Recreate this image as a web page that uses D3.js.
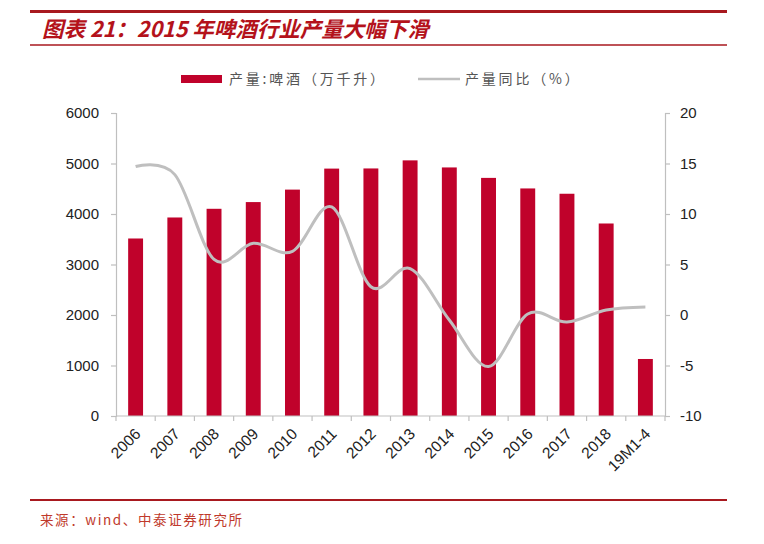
<!DOCTYPE html>
<html><head><meta charset="utf-8">
<script src="https://cdn.jsdelivr.net/npm/d3@7/dist/d3.min.js"></script>
<style>
body{margin:0;background:#fff;}
svg{display:block;}
</style></head>
<body>
<svg id="chart" width="764" height="544"></svg>
<script>
const categories = ["2006","2007","2008","2009","2010","2011","2012","2013","2014","2015","2016","2017","2018","19M1-4"];
const output = [3515,3931,4103,4236,4483,4899,4902,5062,4922,4715,4506,4401,3812,1129];
const yoy = [14.7,13.9,5.5,7.1,6.3,10.7,2.8,4.6,-0.5,-5.1,0.1,-0.7,0.5,0.8];
const leftTicks = [0,1000,2000,3000,4000,5000,6000];
const rightTicks = [-10,-5,0,5,10,15,20];
const titleText = "图表 21：2015 年啤酒行业产量大幅下滑";
const legendLabels = ["产量:啤酒（万千升）","产量同比（%）"];
const sourceText = "来源：wind、中泰证券研究所";

const svg = d3.select("#chart");
const red = "#C0022B";
const darkRed = "#A8191F";
const grey = "#BFBFBF";
const axisFont = "Liberation Sans, Arial, sans-serif";
const cjkFont = "'Noto Sans CJK SC', sans-serif";

const m = {left:116, right:665, top:113, bottom:416};
const x = d3.scaleBand().domain(categories).range([m.left, m.right]).paddingInner(0.62).paddingOuter(0.31);
const xb = d3.scaleBand().domain(categories).range([m.left, m.right]);
const yL = d3.scaleLinear().domain([0,6000]).range([m.bottom, m.top]);
const yR = d3.scaleLinear().domain([-10,20]).range([m.bottom, m.top]);

// header lines
svg.append("line").attr("x1",30).attr("x2",727).attr("y1",11.5).attr("y2",11.5).attr("stroke",darkRed).attr("stroke-width",3);
svg.append("line").attr("x1",30).attr("x2",727).attr("y1",45).attr("y2",45).attr("stroke",darkRed).attr("stroke-width",1.5);
svg.append("text").attr("x",42).attr("y",37).attr("fill","#B4121B")
  .attr("font-family",cjkFont).attr("font-weight","bold").attr("font-style","italic")
  .attr("font-size",21.5).text(titleText);

// legend
svg.append("rect").attr("x",181).attr("y",75).attr("width",41).attr("height",8).attr("fill",red);
svg.append("text").attr("x",229).attr("y",84).attr("fill","#555").attr("font-family",cjkFont).attr("font-size",14).attr("letter-spacing",2.8).text(legendLabels[0]);
svg.append("line").attr("x1",418).attr("x2",460).attr("y1",79).attr("y2",79).attr("stroke",grey).attr("stroke-width",2.5);
svg.append("text").attr("x",465).attr("y",84).attr("fill","#555").attr("font-family",cjkFont).attr("font-size",14).attr("letter-spacing",2.8).text(legendLabels[1]);

// bars
svg.append("g").selectAll("rect").data(categories).join("rect")
  .attr("x",d=>x(d)).attr("width",x.bandwidth())
  .attr("y",(d,i)=>yL(output[i])).attr("height",(d,i)=>yL(0)-yL(output[i]))
  .attr("fill",red);

// line
const line = d3.line().x((d,i)=>xb(categories[i])+xb.bandwidth()/2).y(d=>yR(d)).curve(d3.curveCardinal.tension(0));
svg.append("path").datum(yoy).attr("d",line).attr("fill","none").attr("stroke",grey).attr("stroke-width",3);

// axes
const fmt = d => String(d);
const gL = svg.append("g").attr("transform",`translate(${m.left},0)`)
  .call(d3.axisLeft(yL).tickValues(leftTicks).tickSize(5).tickPadding(12).tickFormat(fmt));
const gR = svg.append("g").attr("transform",`translate(${m.right},0)`)
  .call(d3.axisRight(yR).tickValues(rightTicks).tickSize(5).tickPadding(10).tickFormat(fmt));
const gX = svg.append("g").attr("transform",`translate(0,${m.bottom})`)
  .call(d3.axisBottom(xb).tickSize(0).tickFormat(d=>d));
[gL,gR,gX].forEach(g=>{
  g.selectAll(".domain").attr("stroke",grey).attr("stroke-width",1.2);
  g.selectAll(".tick line").attr("stroke",grey).attr("stroke-width",1.2);
  g.selectAll("text").attr("font-family",axisFont).attr("font-size",15).attr("fill","#222");
});
gX.select(".domain").attr("d",`M${m.left},0H${m.right}`);
// category boundary ticks
gX.append("g").selectAll("line").data(d3.range(categories.length+1)).join("line")
  .attr("x1",i=>m.left+i*xb.step()).attr("x2",i=>m.left+i*xb.step())
  .attr("y1",0).attr("y2",5).attr("stroke",grey).attr("stroke-width",1.2);
gX.selectAll(".tick text")
  .attr("text-anchor","end").attr("dy",0).attr("y",0)
  .attr("transform","translate(6,19) rotate(-45)")
  .attr("font-size",15.5);

// footer
svg.append("line").attr("x1",30).attr("x2",727).attr("y1",500).attr("y2",500).attr("stroke",darkRed).attr("stroke-width",2);
svg.append("text").attr("x",40).attr("y",525).attr("fill","#C0392B").attr("font-family",cjkFont).attr("font-size",13.5).attr("letter-spacing",1.6).text(sourceText);
</script>
</body></html>
